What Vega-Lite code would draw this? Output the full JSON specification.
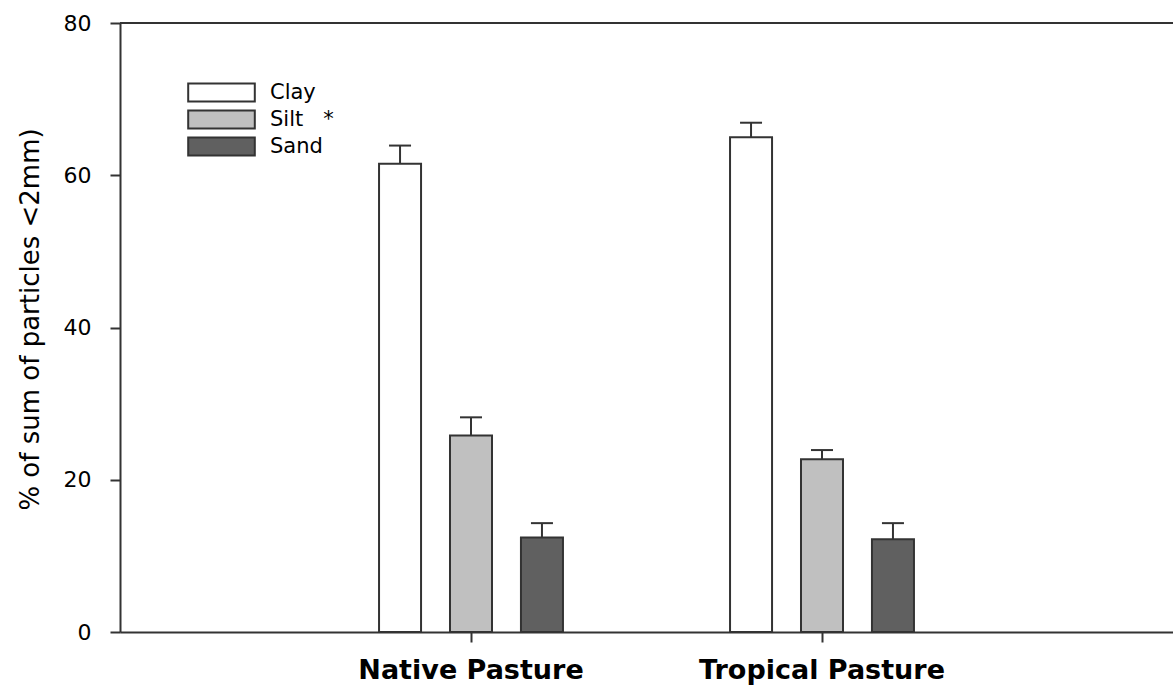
{
  "$schema": "https://vega.github.io/schema/vega-lite/v6.json",
  "width": 1053,
  "height": 609,
  "autosize": "none",
  "padding": {"left": 120, "top": 23, "right": 0, "bottom": 54},
  "background": "#ffffff",
  "config": {
    "view": {"stroke": null},
    "axis": {
      "domainColor": "#333333",
      "domainWidth": 2,
      "tickColor": "#333333",
      "tickWidth": 2,
      "tickSize": 10,
      "grid": false,
      "labelColor": "#000000",
      "titleColor": "#000000"
    }
  },
  "data": {
    "values": [
      {"pasture": "Native Pasture", "fraction": "Clay", "value": 61.5, "upper": 63.9},
      {"pasture": "Native Pasture", "fraction": "Silt", "value": 25.8, "upper": 28.2},
      {"pasture": "Native Pasture", "fraction": "Sand", "value": 12.4, "upper": 14.3},
      {"pasture": "Tropical Pasture", "fraction": "Clay", "value": 65.0, "upper": 66.9},
      {"pasture": "Tropical Pasture", "fraction": "Silt", "value": 22.7, "upper": 23.9},
      {"pasture": "Tropical Pasture", "fraction": "Sand", "value": 12.2, "upper": 14.3}
    ]
  },
  "layer": [
    {
      "mark": {"type": "bar", "stroke": "#333333", "strokeWidth": 2, "opacity": 1},
      "encoding": {
        "x": {
          "field": "pasture", "type": "nominal",
          "sort": ["Native Pasture", "Tropical Pasture"],
          "scale": {"paddingInner": 0.476, "paddingOuter": 0.738},
          "axis": {
            "title": null, "labelAngle": 0, "labelLimit": 0,
            "labelFont": "DejaVu Sans", "labelFontSize": 27, "labelFontWeight": "bold",
            "labelPadding": 15
          }
        },
        "xOffset": {
          "field": "fraction", "type": "nominal",
          "sort": ["Clay", "Silt", "Sand"],
          "scale": {"paddingInner": 0.408, "paddingOuter": 0}
        },
        "y": {
          "field": "value", "type": "quantitative",
          "scale": {"domain": [0, 80], "nice": false},
          "axis": {
            "values": [0, 20, 40, 60, 80],
            "title": "% of sum of particles <2mm)",
            "titleFont": "DejaVu Sans", "titleFontSize": 26, "titleFontWeight": "normal",
            "titlePadding": 20, "titleY": 296,
            "labelFont": "DejaVu Sans", "labelFontSize": 22, "labelPadding": 19
          }
        },
        "fill": {
          "field": "fraction", "type": "nominal",
          "sort": ["Clay", "Silt", "Sand"],
          "scale": {"domain": ["Clay", "Silt", "Sand"], "range": ["#ffffff", "#c0c0c0", "#606060"]},
          "legend": {
            "orient": "none", "legendX": 91, "legendY": 59, "padding": 0,
            "title": null,
            "symbolType": "M-3.7,-1H3.7V1H-3.7Z",
            "symbolSize": 324,
            "symbolStrokeColor": "#333333", "symbolStrokeWidth": 2, "symbolOpacity": 1,
            "labelFont": "DejaVu Sans", "labelFontSize": 21, "labelColor": "#000000",
            "labelOffset": 38, "rowPadding": 0,
            "labelExpr": "datum.label == 'Silt' ? 'Silt\u00a0\u00a0\u00a0*' : datum.label"
          }
        }
      }
    },
    {
      "mark": {"type": "rule", "color": "#333333", "strokeWidth": 2},
      "encoding": {
        "x": {"field": "pasture", "type": "nominal", "sort": ["Native Pasture", "Tropical Pasture"]},
        "xOffset": {"field": "fraction", "type": "nominal", "sort": ["Clay", "Silt", "Sand"]},
        "y": {"field": "value", "type": "quantitative"},
        "y2": {"field": "upper"}
      }
    },
    {
      "mark": {"type": "tick", "orient": "horizontal", "size": 22, "thickness": 2, "color": "#333333", "opacity": 1},
      "encoding": {
        "x": {"field": "pasture", "type": "nominal", "sort": ["Native Pasture", "Tropical Pasture"]},
        "xOffset": {"field": "fraction", "type": "nominal", "sort": ["Clay", "Silt", "Sand"]},
        "y": {"field": "upper", "type": "quantitative"}
      }
    },
    {
      "data": {"values": [{}]},
      "mark": {"type": "rule", "color": "#333333", "strokeWidth": 2},
      "encoding": {"y": {"datum": 80}}
    }
  ]
}
